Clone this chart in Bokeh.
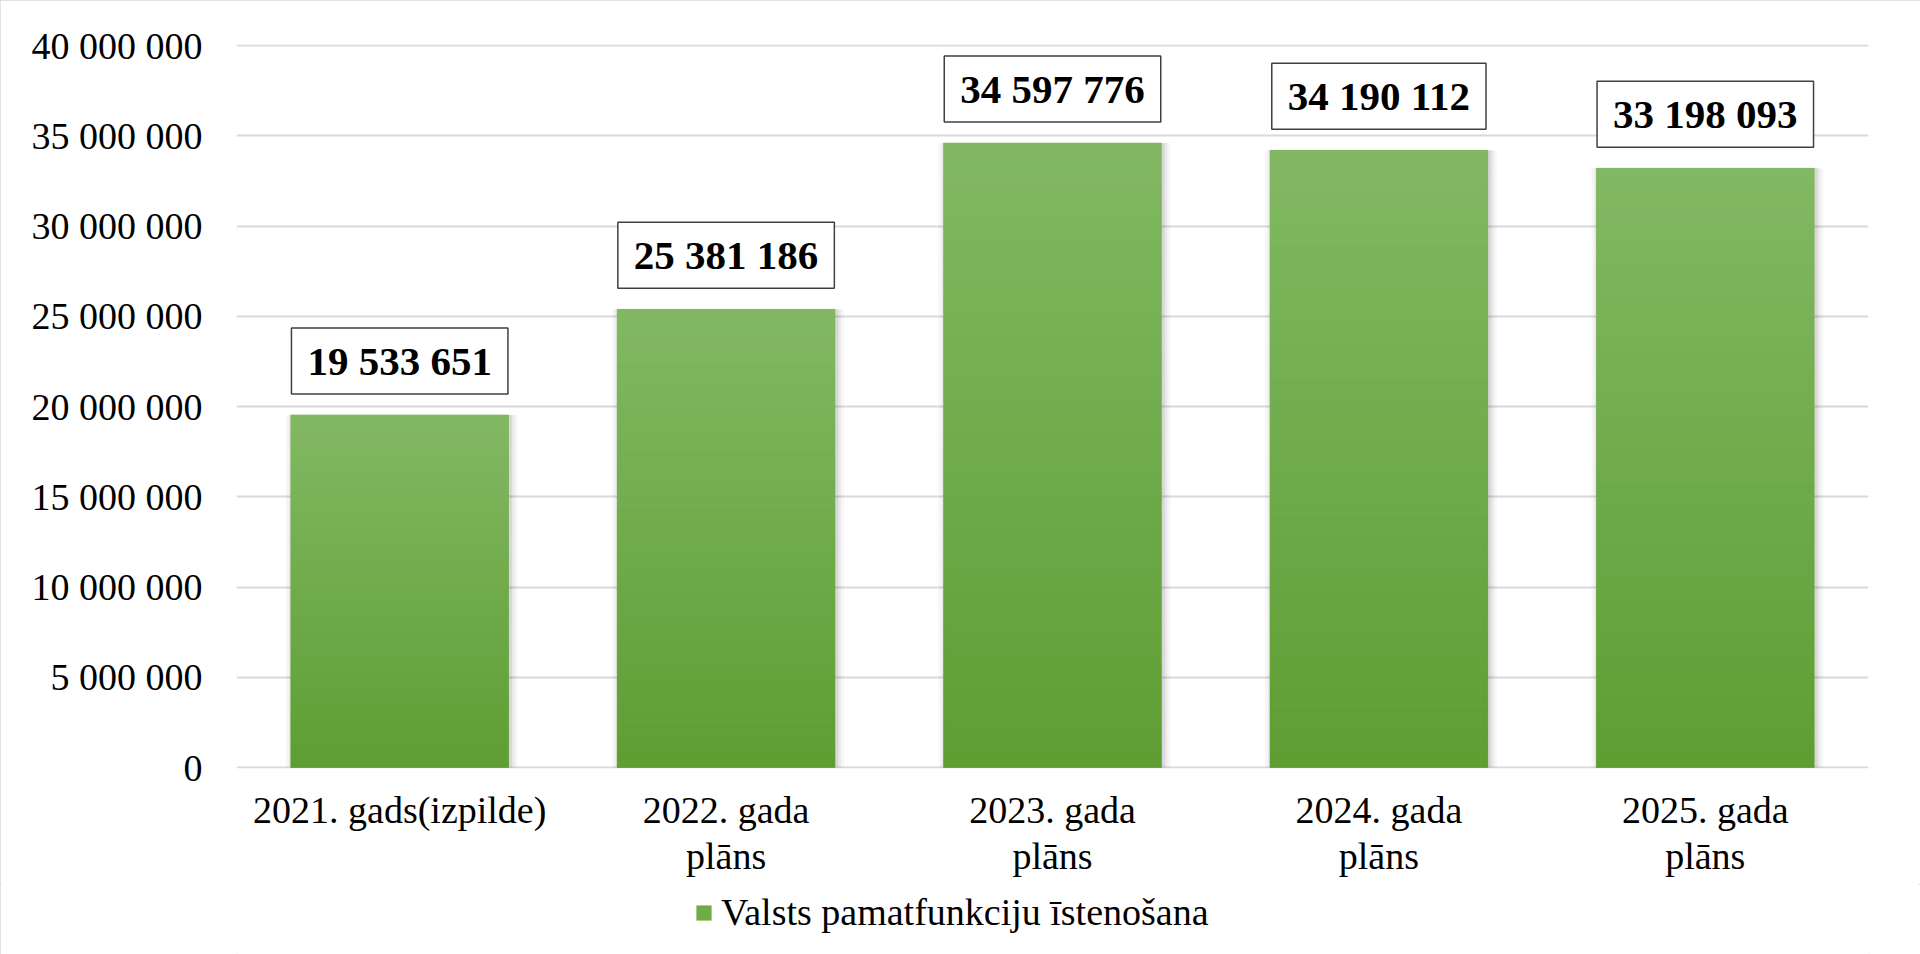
import numpy as np
from bokeh.plotting import figure
from bokeh.layouts import column
from bokeh.models import ColumnDataSource, FactorRange, Range1d, FixedTicker, Legend, LegendItem
from bokeh.transform import dodge
from bokeh.core.properties import value
from bokeh.embed import file_html
from bokeh.resources import INLINE

# ---- data ----
categories = ["2021. gads(izpilde)", "2022. gada\nplāns", "2023. gada\nplāns",
              "2024. gada\nplāns", "2025. gada\nplāns"]
values = [19533651, 25381186, 34597776, 34190112, 33198093]
value_labels = ["19 533 651", "25 381 186", "34 597 776", "34 190 112", "33 198 093"]
y_ticks = [0, 5000000, 10000000, 15000000, 20000000, 25000000, 30000000, 35000000, 40000000]
y_tick_labels = ["0", "5 000 000", "10 000 000", "15 000 000", "20 000 000",
                 "25 000 000", "30 000 000", "35 000 000", "40 000 000"]
series_name = "Valsts pamatfunkciju īstenošana"

# ---- style ----
FONT = "Liberation Serif"
BAR_W = 0.667
BAR_COLOR = "#6fac45"
TOP_RGB = np.array([131, 185, 100])
BOT_RGB = np.array([94, 158, 51])
N_BANDS = 32
PX_PER_CAT = 1632 / 5.0
PAD = 40000000 / 722.0  # one pixel of headroom so edge gridlines stay visible
W = 1920
H_MAIN = 884
H_LEG = 70

p = figure(width=W, height=H_MAIN,
           x_range=FactorRange(factors=categories),
           y_range=Range1d(-PAD, 40000000 + PAD),
           output_backend="svg", toolbar_location=None,
           min_border_left=236, min_border_right=W - 1868,
           min_border_top=44, min_border_bottom=H_MAIN - 768)
p.outline_line_color = None
p.background_fill_color = "white"
p.border_fill_color = "white"

# grid
p.xgrid.grid_line_color = None
p.ygrid.ticker = FixedTicker(ticks=y_ticks)
p.ygrid.grid_line_color = "#d9d9d9"
p.ygrid.grid_line_width = 2

# y axis
p.yaxis.ticker = FixedTicker(ticks=y_ticks)
p.yaxis.major_label_overrides = {t: l for t, l in zip(y_ticks, y_tick_labels)}
p.yaxis.axis_line_color = None
p.yaxis.major_tick_line_color = None
p.yaxis.minor_tick_line_color = None
p.yaxis.major_tick_out = 0
p.yaxis.major_tick_in = 0
p.yaxis.major_label_standoff = 34
p.yaxis.major_label_text_font = FONT
p.yaxis.major_label_text_font_size = "38px"
p.yaxis.major_label_text_color = "black"

# x axis
p.xaxis.axis_line_color = None
p.xaxis.major_tick_line_color = None
p.xaxis.minor_tick_line_color = None
p.xaxis.major_tick_out = 0
p.xaxis.major_tick_in = 0
p.xaxis.major_label_standoff = 20
p.xaxis.major_label_text_font = FONT
p.xaxis.major_label_text_font_size = "38px"
p.xaxis.major_label_text_color = "black"
p.xaxis.major_label_text_line_height = 1.1
p.xaxis.major_label_orientation = "horizontal"

# soft shadows
for extra, alpha in [(14, 0.035), (8, 0.05), (3, 0.07)]:
    p.vbar(x=dodge("x", 2 / PX_PER_CAT, range=p.x_range), top="top", bottom=0,
           width=BAR_W + extra / PX_PER_CAT,
           source=ColumnDataSource(dict(x=categories, top=values)),
           fill_color="black", fill_alpha=alpha, line_color=None)

# base bars
p.vbar(x=categories, top=values, bottom=0, width=BAR_W,
       fill_color=BAR_COLOR, line_color=None)

# gradient bands computed from the values
bx, bb, bt, bc = [], [], [], []
for c, v in zip(categories, values):
    for k in range(N_BANDS):
        f = (k + 0.5) / N_BANDS
        rgb = (BOT_RGB + (TOP_RGB - BOT_RGB) * f).astype(int)
        bx.append(c)
        bb.append(v * k / N_BANDS)
        bt.append(v * (k + 1) / N_BANDS)
        bc.append("#%02x%02x%02x" % tuple(rgb))
p.vbar(x="x", bottom="bottom", top="top", width=BAR_W, fill_color="color",
       line_color="color", line_width=0.6,
       source=ColumnDataSource(dict(x=bx, bottom=bb, top=bt, color=bc)))

# value labels in boxes
p.text(x="x", y="y", text="t",
       source=ColumnDataSource(dict(x=categories, y=values, t=value_labels)),
       text_font=value(FONT), text_font_style="bold", text_font_size="41px",
       text_color="black", text_align="center", text_baseline="middle",
       y_offset=-54,
       background_fill_color="white", border_line_color="#404040",
       border_line_width=1.5,
       padding=dict(left=16, right=16, top=10, bottom=10))

# ---- legend strip (series swatch drawn from the same data, kept out of its view) ----
q = figure(width=W, height=H_LEG, x_range=FactorRange(factors=categories),
           y_range=Range1d(1e9, 2e9),
           output_backend="svg", toolbar_location=None,
           x_axis_type=None, y_axis_type=None,
           min_border=0, min_border_left=0, min_border_right=0,
           min_border_top=0, min_border_bottom=0)
q.outline_line_color = None
q.xgrid.visible = False
q.ygrid.visible = False
q.background_fill_color = "white"
q.border_fill_color = "white"
leg_r = q.vbar(x=categories, top=values, bottom=0, width=BAR_W,
               fill_color=BAR_COLOR, line_color=None)
legend = Legend(items=[LegendItem(label=series_name, renderers=[leg_r])],
                location=(458, 20), orientation="horizontal",
                glyph_width=19, glyph_height=19, label_standoff=8,
                label_text_font=FONT, label_text_font_size="38px",
                label_text_color="black",
                border_line_color=None, background_fill_alpha=0,
                padding=5, margin=0)
q.add_layout(legend, "center")

layout = column(p, q, spacing=0)
layout.styles = {"outline": "2px solid #d9d9d9", "outline-offset": "-2px"}

open("out.html", "w").write(file_html(layout, INLINE))
